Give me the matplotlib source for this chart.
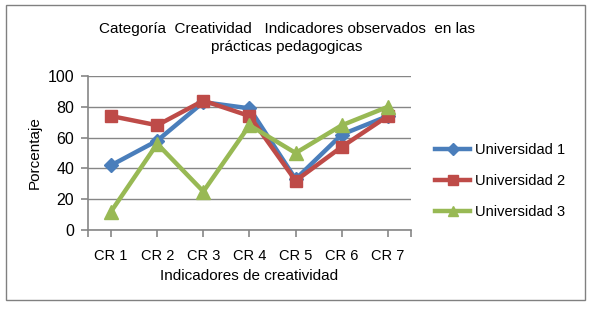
import matplotlib
matplotlib.use('Agg')
import matplotlib.pyplot as plt
from matplotlib.patches import Rectangle

categorias = ['CR 1', 'CR 2', 'CR 3', 'CR 4', 'CR 5', 'CR 6', 'CR 7']
univ1 = [42, 58, 83, 79, 33, 62, 74]
univ2 = [74, 68, 84, 74, 32, 54, 74]
univ3 = [12, 56, 25, 68, 50, 68, 80]
series = ['Universidad 1', 'Universidad 2', 'Universidad 3']

plt.rcParams['font.family'] = ['Liberation Sans', 'DejaVu Sans']

fig = plt.figure(figsize=(5.89, 3.11), dpi=100)
fig.patches.append(Rectangle((6/589, 11/311), 579/589, 295/311, transform=fig.transFigure,
                             fill=False, edgecolor='#808080', linewidth=1))
ax = fig.add_axes([88/589, 81/311, 323/589, 154/311])

x = list(range(1, len(categorias) + 1))
ax.plot(x, univ1, color='#4A7EBB', lw=3.2, marker='D', ms=7.5, label=series[0], zorder=3)
ax.plot(x, univ2, color='#BE4B48', lw=3.2, marker='s', ms=9, label=series[1], zorder=3)
ax.plot(x, univ3, color='#98B954', lw=3.2, marker='^', ms=9.5, label=series[2], zorder=3)

ax.set_xlim(0.5, 7.5)
ax.set_ylim(0, 100)
ax.set_yticks([0, 20, 40, 60, 80, 100])
ax.set_xticks(x)
ax.set_xticklabels(categorias)
ax.set_xticks([0.5, 7.5], minor=True)
ax.yaxis.grid(True, color='#868686', lw=1)
ax.set_axisbelow(True)
for s in ['top', 'right']:
    ax.spines[s].set_visible(False)
for s in ['left', 'bottom']:
    ax.spines[s].set_color('#868686')
    ax.spines[s].set_linewidth(1.2)
ax.tick_params(axis='both', which='both', color='#868686', width=1.2, length=5, pad=5)
ax.tick_params(axis='y', labelsize=11.5)
ax.tick_params(axis='x', labelsize=10.5, pad=9)

ax.set_ylabel('Porcentaje', fontsize=11, labelpad=4)
ax.set_xlabel('Indicadores de creatividad', fontsize=11, labelpad=4)

fig.text(287/589, 1 - 38/311, 'Categoría  Creatividad   Indicadores observados  en las\nprácticas pedagogicas',
         ha='center', va='center', fontsize=11, linespacing=1.35)

leg = ax.legend(loc='center left', bbox_to_anchor=(1.035, 0.318), frameon=False, fontsize=10.5,
                handlelength=2.4, labelspacing=1.15, handletextpad=0.3, markerscale=0.75)

fig.savefig('out.png', dpi=100)
